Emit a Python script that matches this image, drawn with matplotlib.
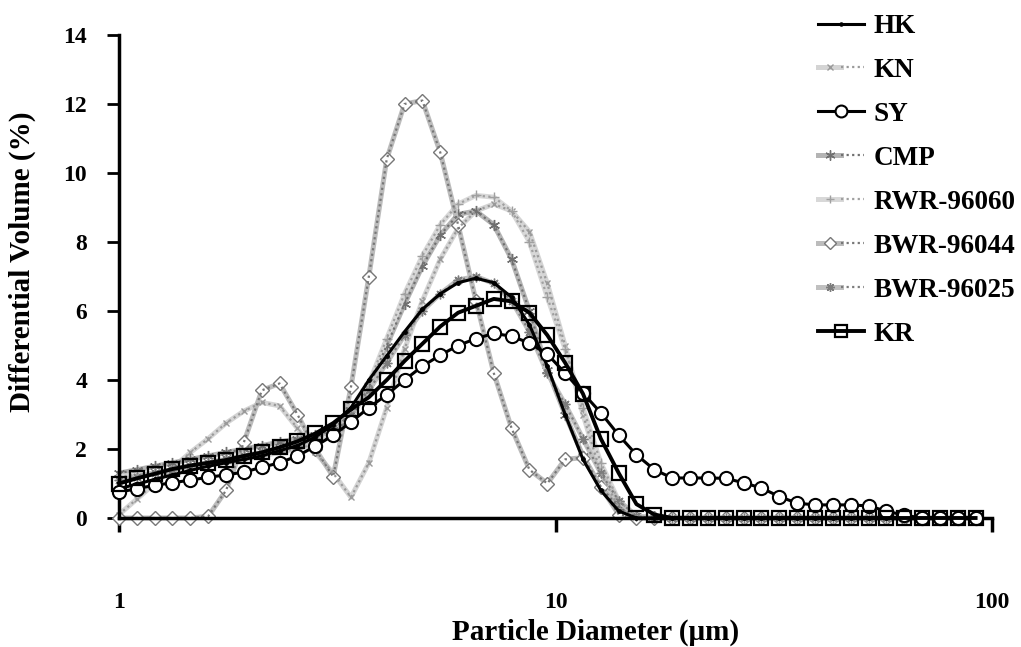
import matplotlib
matplotlib.use("Agg")
import matplotlib.pyplot as plt
from matplotlib.legend_handler import HandlerTuple

# ---- data -------------------------------------------------------------
diameter = [1.0, 1.099, 1.207, 1.326, 1.457, 1.601, 1.759, 1.933, 2.124, 2.333,
            2.564, 2.817, 3.095, 3.400, 3.736, 4.105, 4.510, 4.955, 5.444, 5.982,
            6.572, 7.221, 7.933, 8.716, 9.577, 10.52, 11.56, 12.70, 13.96, 15.33,
            16.85, 18.51, 20.34, 22.35, 24.55, 26.98, 29.64, 32.56, 35.78, 39.31,
            43.19, 47.45, 52.14, 57.28, 62.94, 69.15, 75.97, 83.47, 91.71]

HK = [0.85, 0.98, 1.12, 1.25, 1.38, 1.5, 1.6, 1.7, 1.8, 1.95,
      2.1, 2.35, 2.7, 3.2, 4.0, 4.7, 5.4, 6.05, 6.5, 6.82,
      6.95, 6.82, 6.4, 5.6, 4.4, 3.0, 1.7, 0.8, 0.2, 0.0,
      0, 0, 0, 0, 0, 0, 0, 0, 0, 0, 0, 0, 0, 0, 0, 0, 0, 0, 0]

KN = [0.1, 0.55, 1.0, 1.45, 1.9, 2.3, 2.75, 3.1, 3.35, 3.25,
      2.6, 1.9, 1.3, 0.6, 1.6, 3.2, 4.9, 6.3, 7.5, 8.4,
      8.9, 9.1, 8.9, 8.3, 6.8, 5.0, 3.0, 1.3, 0.3, 0.0,
      0, 0, 0, 0, 0, 0, 0, 0, 0, 0, 0, 0, 0, 0, 0, 0, 0, 0, 0]

SY = [0.75, 0.85, 0.95, 1.02, 1.1, 1.18, 1.25, 1.33, 1.47, 1.6,
      1.8, 2.08, 2.4, 2.78, 3.2, 3.57, 4.0, 4.4, 4.72, 5.0,
      5.2, 5.35, 5.27, 5.07, 4.75, 4.2, 3.62, 3.05, 2.4, 1.83,
      1.4, 1.16, 1.16, 1.16, 1.15, 1.02, 0.87, 0.62, 0.43, 0.38,
      0.38, 0.38, 0.35, 0.2, 0.08, 0, 0, 0, 0]

CMP = [1.3, 1.4, 1.5, 1.6, 1.7, 1.8, 1.9, 2.0, 2.1, 2.2,
       2.3, 2.4, 2.5, 2.9, 3.8, 5.0, 6.2, 7.3, 8.2, 8.8,
       8.9, 8.5, 7.5, 6.0, 4.3, 3.0, 1.8, 0.9, 0.3, 0.05,
       0, 0, 0, 0, 0, 0, 0, 0, 0, 0, 0, 0, 0, 0, 0, 0, 0, 0, 0]

RWR_96060 = [1.2, 1.25, 1.3, 1.4, 1.5, 1.55, 1.6, 1.7, 1.8, 1.9,
             2.0, 2.15, 2.4, 2.9, 3.9, 5.2, 6.5, 7.6, 8.5, 9.1,
             9.35, 9.3, 8.9, 8.0, 6.4, 4.9, 3.2, 1.6, 0.5, 0.05,
             0, 0, 0, 0, 0, 0, 0, 0, 0, 0, 0, 0, 0, 0, 0, 0, 0, 0, 0]

BWR_96044 = [0.0, 0.0, 0.0, 0.0, 0.0, 0.05, 0.8, 2.2, 3.7, 3.9,
             3.0, 2.0, 1.2, 3.8, 7.0, 10.4, 12.0, 12.1, 10.6, 8.5,
             6.3, 4.2, 2.6, 1.4, 1.0, 1.7, 1.75, 0.9, 0.1, 0.0,
             0, 0, 0, 0, 0, 0, 0, 0, 0, 0, 0, 0, 0, 0, 0, 0, 0, 0, 0]

BWR_96025 = [1.1, 1.2, 1.3, 1.4, 1.5, 1.6, 1.7, 1.8, 1.9, 2.0,
             2.1, 2.3, 2.6, 3.0, 3.7, 4.5, 5.3, 6.0, 6.5, 6.9,
             7.0, 6.8, 6.3, 5.4, 4.2, 3.3, 2.3, 1.3, 0.5, 0.05,
             0, 0, 0, 0, 0, 0, 0, 0, 0, 0, 0, 0, 0, 0, 0, 0, 0, 0, 0]

KR = [1.0, 1.15, 1.28, 1.42, 1.52, 1.6, 1.68, 1.8, 1.9, 2.05,
      2.22, 2.45, 2.75, 3.15, 3.5, 4.0, 4.55, 5.05, 5.55, 5.95,
      6.15, 6.35, 6.28, 5.95, 5.3, 4.5, 3.6, 2.3, 1.3, 0.4,
      0.1, 0, 0, 0, 0, 0, 0, 0, 0, 0, 0, 0, 0, 0, 0, 0, 0, 0, 0]

y_ticks = [0, 2, 4, 6, 8, 10, 12, 14]
x_ticks = [1, 10, 100]
x_tick_labels = ["1", "10", "100"]

# ---- figure -----------------------------------------------------------
W, H = 1021, 647
fig = plt.figure(figsize=(W / 100, H / 100), dpi=100)
fig.patch.set_facecolor("white")
ax = fig.add_axes([119 / W, 1 - 518 / H, (992 - 119) / W, (518 - 35) / H])

serif = "Liberation Serif"

# stippled gray look: light base stroke + dotted darker overlay
gray_styles = [
    ("KN", KN, "#d4d4d4", "#9a9a9a", dict(marker="x", ms=5, mew=1.0)),
    ("CMP", CMP, "#b4b4b4", "#707070", dict(marker=(6, 2, 0), ms=8, mew=1.0)),
    ("RWR-96060", RWR_96060, "#d8d8d8", "#a0a0a0", dict(marker="+", ms=7, mew=1.0)),
    ("BWR-96044", BWR_96044, "#bcbcbc", "#777777", dict(marker="D", ms=7, mfc="white", mew=1.0)),
    ("BWR-96025", BWR_96025, "#c0c0c0", "#7c7c7c", dict(marker=(8, 2, 0), ms=7, mew=1.0)),
]

handles = {}
for name, vals, base, dots, mk in gray_styles:
    h1, = ax.plot(diameter, vals, color=base, lw=3.6, clip_on=False, zorder=2,
                  mec=dots, **mk)
    h2, = ax.plot(diameter, vals, color=dots, lw=1.6, ls=(0, (1, 1.5)),
                  clip_on=False, zorder=2.1)
    handles[name] = (h1, h2)

handles["HK"], = ax.plot(diameter, HK, color="black", lw=2.2, marker="o", ms=2.5,
                         clip_on=False, zorder=4)
handles["SY"], = ax.plot(diameter, SY, color="black", lw=2.2, marker="o", ms=9.5,
                         mfc="white", mec="black", mew=1.5, clip_on=False, zorder=5)
handles["KR"], = ax.plot(diameter, KR, color="black", lw=2.8, marker="s", ms=9.5,
                         mfc="none", mec="black", mew=1.6, clip_on=False, zorder=6)

ax.set_xscale("log")
ax.set_xlim(1, 100)
ax.set_ylim(0, 14)

for s in ["top", "right"]:
    ax.spines[s].set_visible(False)
ax.spines["left"].set_linewidth(2.5)
ax.spines["bottom"].set_linewidth(2.5)

ax.set_yticks(y_ticks)
ax.set_yticklabels([str(v) for v in y_ticks], fontfamily=serif, fontweight="bold", fontsize=17)
ax.set_xticks(x_ticks)
ax.set_xticklabels(x_tick_labels, fontfamily=serif, fontweight="bold", fontsize=17)
ax.xaxis.set_minor_locator(matplotlib.ticker.NullLocator())
ax.tick_params(axis="y", direction="out", length=9, width=2, pad=14)
ax.tick_params(axis="x", direction="out", length=10, width=2.5, pad=43)

fig.text(22 / W, 1 - 262 / H, "Differential Volume (%)", rotation=90, ha="center",
         va="center", fontfamily=serif, fontweight="bold", fontsize=21)
fig.text(596 / W, 1 - 632 / H, "Particle Diameter (μm)", ha="center", va="center",
         fontfamily=serif, fontweight="bold", fontsize=21)

order = ["HK", "KN", "SY", "CMP", "RWR-96060", "BWR-96044", "BWR-96025", "KR"]
leg = fig.legend([handles[n] for n in order], order, loc="upper left",
                 bbox_to_anchor=(818 / W, 1 - 14 / H), frameon=False,
                 prop=dict(family=serif, weight="bold", size=19.5),
                 handlelength=1.7, handletextpad=0.35, labelspacing=0.7,
                 borderpad=0, borderaxespad=0, markerscale=0.9,
                 handler_map={tuple: HandlerTuple(ndivide=None, pad=0)})

fig.savefig("out.png", dpi=100, facecolor="white")
